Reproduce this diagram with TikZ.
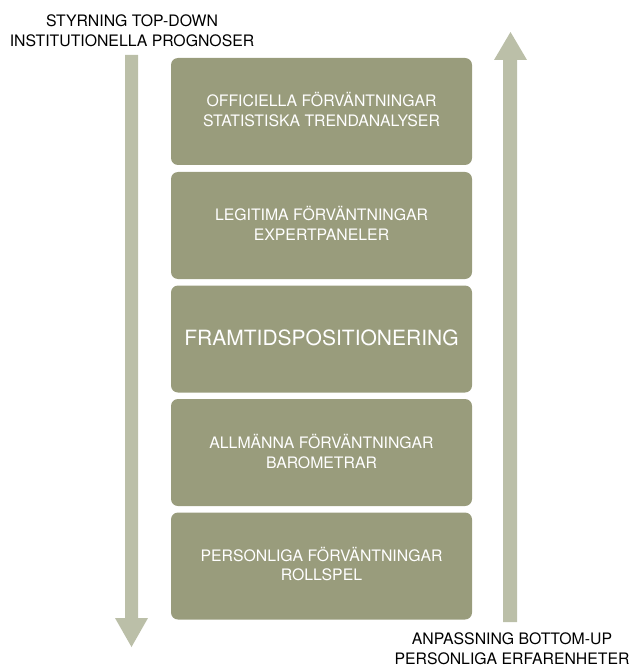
\documentclass[tikz,border=0pt]{standalone}
\usepackage{fontspec}
\setmainfont{TeX Gyre Heros}
\begin{document}
\begin{tikzpicture}[x=1pt,y=-1pt,
  stage/.style={fill=boxgreen, rounded corners=7pt, minimum width=301pt, minimum height=107pt, inner sep=0pt},
  stagetext/.style={text=white, align=center, font=\fontsize{15.8}{19.5}\selectfont, inner sep=0pt},
  lbl/.style={align=center, text=black, font=\fontsize{15.8}{19.5}\selectfont, inner sep=0pt},
  bigarrow/.style={fill=arrowgreen, draw=none}]
\definecolor{boxgreen}{HTML}{999C7C}
\definecolor{arrowgreen}{HTML}{BBBFA8}
\useasboundingbox (0,0) rectangle (633,668);
% boxes
\node[stage] (b1) at (321.5,111.5) {};
\node[stage] (b2) at (321.5,225.5) {};
\node[stage] (b3) at (321.5,339) {};
\node[stage] (b4) at (321.5,452.5) {};
\node[stage] (b5) at (321.5,566) {};
\node[stagetext] (t1) at ([yshift=2pt]b1.center) {OFFICIELLA FÖRVÄNTNINGAR\\STATISTISKA TRENDANALYSER};
\node[stagetext] (t2) at ([yshift=2pt]b2.center) {LEGITIMA FÖRVÄNTNINGAR\\EXPERTPANELER};
\node[stagetext, font=\fontsize{21}{24}\selectfont] (t3) at ([yshift=1pt]b3.center) {FRAMTIDSPOSITIONERING};
\node[stagetext] (t4) at ([yshift=1pt]b4.center) {ALLMÄNNA FÖRVÄNTNINGAR\\BAROMETRAR};
\node[stagetext] (t5) at ([yshift=2pt]b5.center) {PERSONLIGA FÖRVÄNTNINGAR\\ROLLSPEL};
% left arrow (down)
\fill[bigarrow] (125,55) -- (138,55) -- (138,618) -- (148,618) -- (131.5,647) -- (115,618) -- (125,618) -- cycle;
% right arrow (up)
\fill[bigarrow] (503,622) -- (517,622) -- (517,60) -- (527,60) -- (510.5,32) -- (494,60) -- (503,60) -- cycle;
% labels
\node[lbl] (top) at (132,30.5) {STYRNING TOP-DOWN\\INSTITUTIONELLA PROGNOSER};
\node[lbl] (bot) at (512,648.5) {ANPASSNING BOTTOM-UP\\PERSONLIGA ERFARENHETER};
\end{tikzpicture}
\end{document}
